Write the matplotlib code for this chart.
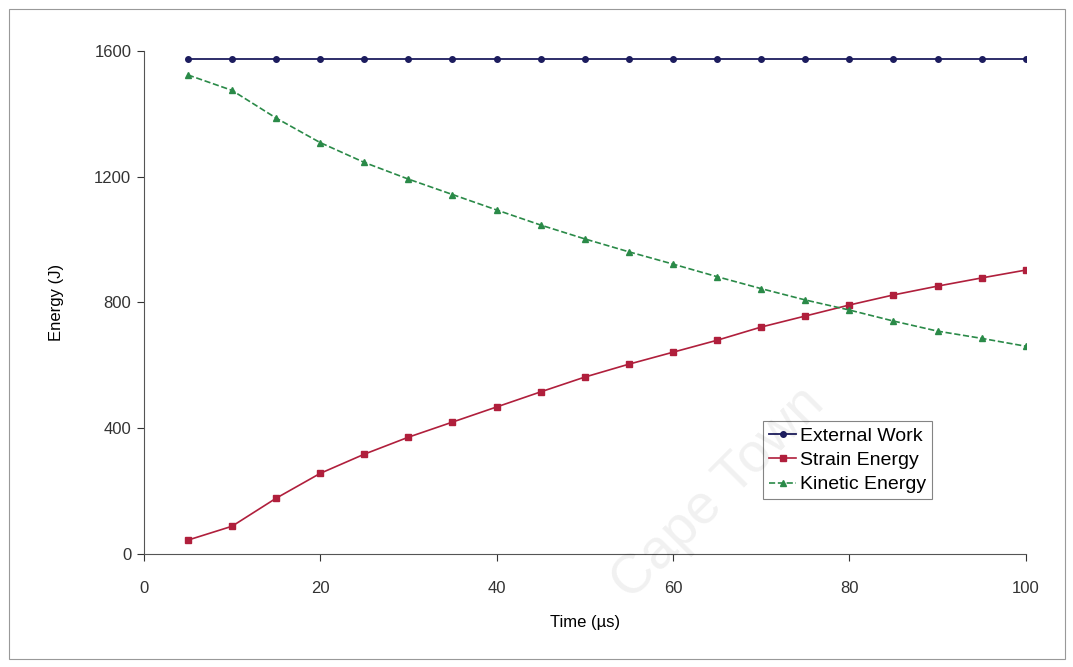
import matplotlib
matplotlib.use("Agg")
import matplotlib.pyplot as plt

plt.rcParams['font.family'] = ['Liberation Sans', 'DejaVu Sans']

# time in microseconds
time_us = [5, 10, 15, 20, 25, 30, 35, 40, 45, 50,
           55, 60, 65, 70, 75, 80, 85, 90, 95, 100]
external_work = [1575] * 20
strain_energy = [45, 89, 178, 257, 318, 372, 420, 468, 516, 563,
                 604, 642, 680, 722, 757, 792, 824, 852, 878, 903]
kinetic_energy = [1523, 1474, 1386, 1308, 1245, 1192, 1143, 1094, 1046, 1002,
                  961, 922, 882, 844, 808, 776, 741, 709, 686, 661]

fig = plt.figure(figsize=(10.73, 6.67), dpi=100)
ax = fig.add_axes([0.134, 0.169, 0.822, 0.755])

ax.plot(time_us, external_work, '-', color='#1c1c5e', lw=1.3,
        marker='o', ms=4, label='External Work')
ax.plot(time_us, strain_energy, '-', color='#b01f3c', lw=1.2,
        marker='s', ms=4.5, label='Strain Energy')
ax.plot(time_us, kinetic_energy, '--', color='#2a8a48', lw=1.2,
        marker='^', ms=5, label='Kinetic Energy')

ax.set_xlim(0, 100)
ax.set_ylim(0, 1600)
ax.set_xticks([0, 20, 40, 60, 80, 100])
ax.set_yticks([0, 400, 800, 1200, 1600])
ax.tick_params(labelsize=12, colors='#333333', direction='out', length=5)
ax.tick_params(axis='x', pad=14)
ax.tick_params(axis='y', pad=4)
for s in ['top', 'right']:
    ax.spines[s].set_visible(False)
for s in ['left', 'bottom']:
    ax.spines[s].set_color('#555555')

ax.set_xlabel('Time (µs)', fontsize=12, labelpad=14)
ax.set_ylabel('Energy (J)', fontsize=12, labelpad=22)

leg = ax.legend(loc='lower right', bbox_to_anchor=(0.905, 0.09),
                fontsize=14, frameon=True, fancybox=False,
                handlelength=1.4, handletextpad=0.2, borderpad=0.3,
                labelspacing=0.35)
leg.get_frame().set_edgecolor('#666666')
leg.get_frame().set_linewidth(0.8)

# faint watermark of the scanned source
fig.text(0.67, 0.26, 'Cape Town', fontsize=40, color='#000000', alpha=0.06,
         rotation=45, ha='center', va='center')

# chart area border
fig.patches.append(plt.Rectangle((0.008, 0.012), 0.985, 0.975,
                                 transform=fig.transFigure, fill=False,
                                 edgecolor='#999999', lw=0.8))

fig.savefig('out.png', dpi=100)
